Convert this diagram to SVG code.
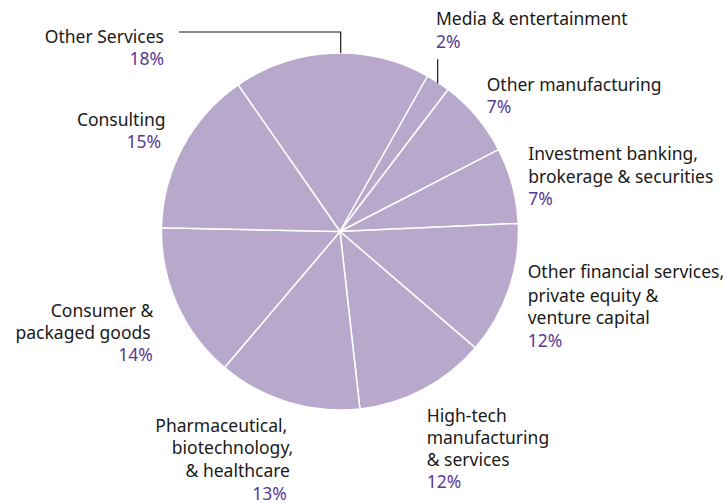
<svg xmlns="http://www.w3.org/2000/svg" width="727" height="503" viewBox="0 0 727 503">
<style>
.slice{fill:#b7a8cc;stroke:#ffffff;stroke-width:1.5;stroke-linejoin:round}
.lbl{font-family:"Noto Sans","Open Sans",sans-serif;font-size:17.5px;fill:#1a1a1a}
.pct{font-family:"Noto Sans","Open Sans",sans-serif;font-size:17.5px;fill:#5a3995}
.e{text-anchor:end}
.lead{fill:none;stroke:#1a1a1a;stroke-width:1.2}
</style>
<rect width="727" height="503" fill="#ffffff"/>
<g id="pie">
<path id="s-other-services" class="slice" d="M340,231.5 L238.1,84.9 A178.5,178.5 0 0 1 427.6,76 Z"/>
<path id="s-media" class="slice" d="M340,231.5 L427.6,76 A178.5,178.5 0 0 1 448.2,89.5 Z"/>
<path id="s-other-manufacturing" class="slice" d="M340,231.5 L448.2,89.5 A178.5,178.5 0 0 1 498.6,149.6 Z"/>
<path id="s-investment" class="slice" d="M340,231.5 L498.6,149.6 A178.5,178.5 0 0 1 518.3,223.4 Z"/>
<path id="s-other-financial" class="slice" d="M340,231.5 L518.3,223.4 A178.5,178.5 0 0 1 475.3,347.9 Z"/>
<path id="s-hightech" class="slice" d="M340,231.5 L475.3,347.9 A178.5,178.5 0 0 1 359.9,408.9 Z"/>
<path id="s-pharma" class="slice" d="M340,231.5 L359.9,408.9 A178.5,178.5 0 0 1 224.5,367.6 Z"/>
<path id="s-consumer" class="slice" d="M340,231.5 L224.5,367.6 A178.5,178.5 0 0 1 161.5,227.8 Z"/>
<path id="s-consulting" class="slice" d="M340,231.5 L161.5,227.8 A178.5,178.5 0 0 1 238.1,84.9 Z"/>
</g>
<g id="connectors">
<path class="lead" d="M179,32 H340.7 V53"/>
<path class="lead" d="M437.7,59.3 V83.3"/>
</g>
<g id="label-other-services">
<text class="lbl e" x="164" y="43">Other Services</text>
<text class="pct e" x="164" y="65">18%</text>
</g>
<g id="label-consulting">
<text class="lbl e" x="165.5" y="125.7">Consulting</text>
<text class="pct e" x="161" y="147.7">15%</text>
</g>
<g id="label-media">
<text class="lbl" x="436" y="25">Media &amp; entertainment</text>
<text class="pct" x="436" y="47.7">2%</text>
</g>
<g id="label-other-manufacturing">
<text class="lbl" x="486.7" y="90.7">Other manufacturing</text>
<text class="pct" x="486.7" y="113.3">7%</text>
</g>
<g id="label-investment">
<text class="lbl" x="528.3" y="160">Investment banking,</text>
<text class="lbl" x="528.3" y="182.7">brokerage &amp; securities</text>
<text class="pct" x="528.3" y="204.5">7%</text>
</g>
<g id="label-other-financial">
<text class="lbl" x="527.7" y="278">Other financial services,</text>
<text class="lbl" x="527.7" y="301.5">private equity &amp;</text>
<text class="lbl" x="527.7" y="324">venture capital</text>
<text class="pct" x="527.7" y="346.5">12%</text>
</g>
<g id="label-hightech">
<text class="lbl" x="426.7" y="421.7">High-tech</text>
<text class="lbl" x="426.7" y="444.3">manufacturing</text>
<text class="lbl" x="426.7" y="466">&amp; services</text>
<text class="pct" x="426.7" y="488.3">12%</text>
</g>
<g id="label-consumer">
<text class="lbl e" x="153.3" y="316.7">Consumer &amp;</text>
<text class="lbl e" x="150.7" y="339.3">packaged goods</text>
<text class="pct e" x="152.7" y="361">14%</text>
</g>
<g id="label-pharma">
<text class="lbl e" x="287.3" y="432">Pharmaceutical,</text>
<text class="lbl e" x="293.3" y="454.4">biotechnology,</text>
<text class="lbl e" x="290" y="476.8">&amp; healthcare</text>
<text class="pct e" x="286.7" y="499.5">13%</text>
</g>
</svg>
